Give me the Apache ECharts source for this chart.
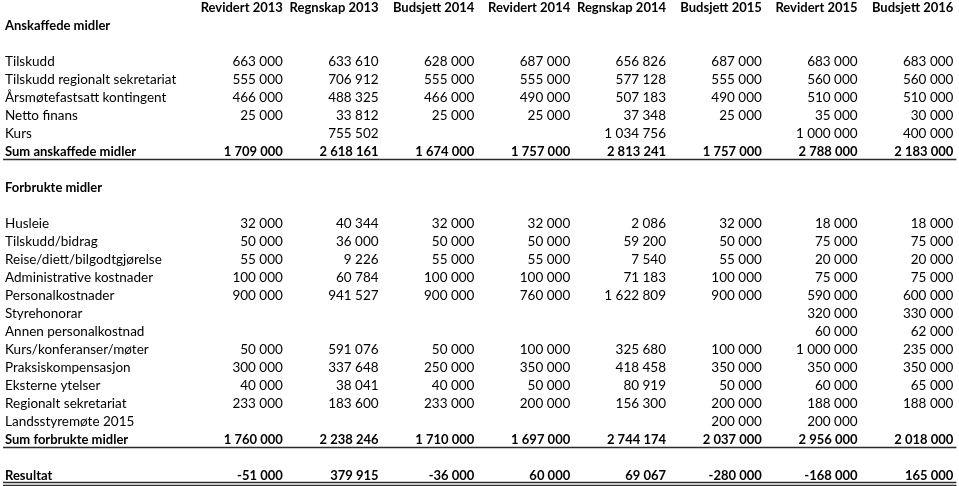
<!DOCTYPE html>
<html>
<head>
<meta charset="utf-8">
<script src="https://cdn.jsdelivr.net/npm/echarts@6/dist/echarts.min.js"></script>
<style>
html,body{margin:0;padding:0;background:#fff;}
#chart{width:959px;height:486px;}
</style>
</head>
<body>
<div id="chart"></div>
<script>
// ---- Data ----
const columns = ['Revidert 2013','Regnskap 2013','Budsjett 2014','Revidert 2014','Regnskap 2014','Budsjett 2015','Revidert 2015','Budsjett 2016'];

const incomeTitle = 'Anskaffede midler';
const incomeLabels = ['Tilskudd','Tilskudd regionalt sekretariat','Årsmøtefastsatt kontingent','Netto finans','Kurs'];
const tilskudd        = [663000, 633610, 628000, 687000, 656826, 687000, 683000, 683000];
const tilskuddRegional= [555000, 706912, 555000, 555000, 577128, 555000, 560000, 560000];
const kontingent      = [466000, 488325, 466000, 490000, 507183, 490000, 510000, 510000];
const nettoFinans     = [25000, 33812, 25000, 25000, 37348, 25000, 35000, 30000];
const kurs            = [null, 755502, null, null, 1034756, null, 1000000, 400000];
const incomeSumLabel = 'Sum anskaffede midler';
const incomeSum       = [1709000, 2618161, 1674000, 1757000, 2813241, 1757000, 2788000, 2183000];

const expenseTitle = 'Forbrukte midler';
const expenseLabels = ['Husleie','Tilskudd/bidrag','Reise/diett/bilgodtgjørelse','Administrative kostnader','Personalkostnader','Styrehonorar','Annen personalkostnad','Kurs/konferanser/møter','Praksiskompensasjon','Eksterne ytelser','Regionalt sekretariat','Landsstyremøte 2015'];
const husleie         = [32000, 40344, 32000, 32000, 2086, 32000, 18000, 18000];
const tilskuddBidrag  = [50000, 36000, 50000, 50000, 59200, 50000, 75000, 75000];
const reise           = [55000, 9226, 55000, 55000, 7540, 55000, 20000, 20000];
const administrative  = [100000, 60784, 100000, 100000, 71183, 100000, 75000, 75000];
const personal        = [900000, 941527, 900000, 760000, 1622809, 900000, 590000, 600000];
const styrehonorar    = [null, null, null, null, null, null, 320000, 330000];
const annenPersonal   = [null, null, null, null, null, null, 60000, 62000];
const kursKonferanser = [50000, 591076, 50000, 100000, 325680, 100000, 1000000, 235000];
const praksis         = [300000, 337648, 250000, 350000, 418458, 350000, 350000, 350000];
const eksterne        = [40000, 38041, 40000, 50000, 80919, 50000, 60000, 65000];
const regionalt       = [233000, 183600, 233000, 200000, 156300, 200000, 188000, 188000];
const landsstyre      = [null, null, null, null, null, 200000, 200000, null];
const expenseSumLabel = 'Sum forbrukte midler';
const expenseSum      = [1760000, 2238246, 1710000, 1697000, 2744174, 2037000, 2956000, 2018000];

const resultLabel = 'Resultat';
const resultat        = [-51000, 379915, -36000, 60000, 69067, -280000, -168000, 165000];

const incomeValues = [tilskudd, tilskuddRegional, kontingent, nettoFinans, kurs];
const expenseValues = [husleie, tilskuddBidrag, reise, administrative, personal, styrehonorar, annenPersonal, kursKonferanser, praksis, eksterne, regionalt, landsstyre];

// ---- Build table rows (sequence of lines, blanks included) ----
function fmt(v){
  if (v === null || v === undefined) return '';
  const neg = v < 0;
  const s = String(Math.abs(v)).replace(/\B(?=(\d{3})+(?!\d))/g, ' ');
  return (neg ? '-' : '') + s;
}
const lines = [];
lines.push({type:'header'});
lines.push({type:'title', label:incomeTitle});
lines.push({type:'blank'});
incomeLabels.forEach((l,i)=>lines.push({type:'row', label:l, values:incomeValues[i]}));
lines.push({type:'sum', label:incomeSumLabel, values:incomeSum, rule:'single'});
lines.push({type:'blank'});
lines.push({type:'title', label:expenseTitle});
lines.push({type:'blank'});
expenseLabels.forEach((l,i)=>lines.push({type:'row', label:l, values:expenseValues[i]}));
lines.push({type:'sum', label:expenseSumLabel, values:expenseSum, rule:'single'});
lines.push({type:'blank'});
lines.push({type:'sum', label:resultLabel, values:resultat, rule:'double'});

const LABEL_COL = -1.9;
const cells = [];
const rules = [];
lines.forEach((ln, r) => {
  if (ln.type === 'header') {
    columns.forEach((c, j) => cells.push({col:j+1, row:r, text:c, bold:true}));
  } else if (ln.type === 'title') {
    cells.push({col:LABEL_COL, row:r, text:ln.label, bold:true});
  } else if (ln.type === 'row' || ln.type === 'sum') {
    const bold = ln.type === 'sum';
    cells.push({col:LABEL_COL, row:r, text:ln.label, bold:bold});
    ln.values.forEach((v, j) => { if (v !== null) cells.push({col:j+1, row:r, text:fmt(v), bold:bold}); });
    if (ln.rule) rules.push({row:r, kind:ln.rule});
  }
});

const FONT = 'Lato';
const chart = echarts.init(document.getElementById('chart'), null, {renderer:'canvas'});
chart.setOption({
  animation:false,
  backgroundColor:'#ffffff',
  grid:{left:5, right:5.6, top:7.5, bottom:10.5, containLabel:false},
  xAxis:{type:'value', min:-1.9, max:8, show:false},
  yAxis:{type:'value', min:0, max:lines.length-1, inverse:true, show:false},
  series:[
    {
      type:'custom',
      silent:true,
      data: cells.map(c => [c.col, c.row]),
      renderItem: function(params, api){
        const c = cells[params.dataIndex];
        const p = api.coord([c.col, c.row]);
        return {
          type:'text',
          x:p[0], y:p[1],
          style:{
            text:c.text,
            align: c.col < 0 ? 'left' : 'right',
            verticalAlign:'middle',
            fontFamily:FONT,
            fontSize: c.bold ? 13 : 13.5,
            fontWeight: c.bold ? 'bold' : 'normal',
            fill:'#000000'
          }
        };
      }
    },
    {
      type:'custom',
      silent:true,
      data: rules.map(r => [0, r.row + 0.5]),
      renderItem: function(params, api){
        const r = rules[params.dataIndex];
        const cs = params.coordSys;
        const y = api.coord([0, r.row + 0.5])[1] - 1;
        const x1 = cs.x - 2, x2 = cs.x + cs.width + 3;
        const st = {stroke:'#2b2b2b', lineWidth:1.6};
        if (r.kind === 'double') {
          return {type:'group', children:[
            {type:'line', shape:{x1:x1, y1:y-1, x2:x2, y2:y-1}, style:st},
            {type:'line', shape:{x1:x1, y1:y+2, x2:x2, y2:y+2}, style:st}
          ]};
        }
        return {type:'line', shape:{x1:x1, y1:y, x2:x2, y2:y}, style:st};
      }
    }
  ]
});
</script>
</body>
</html>
